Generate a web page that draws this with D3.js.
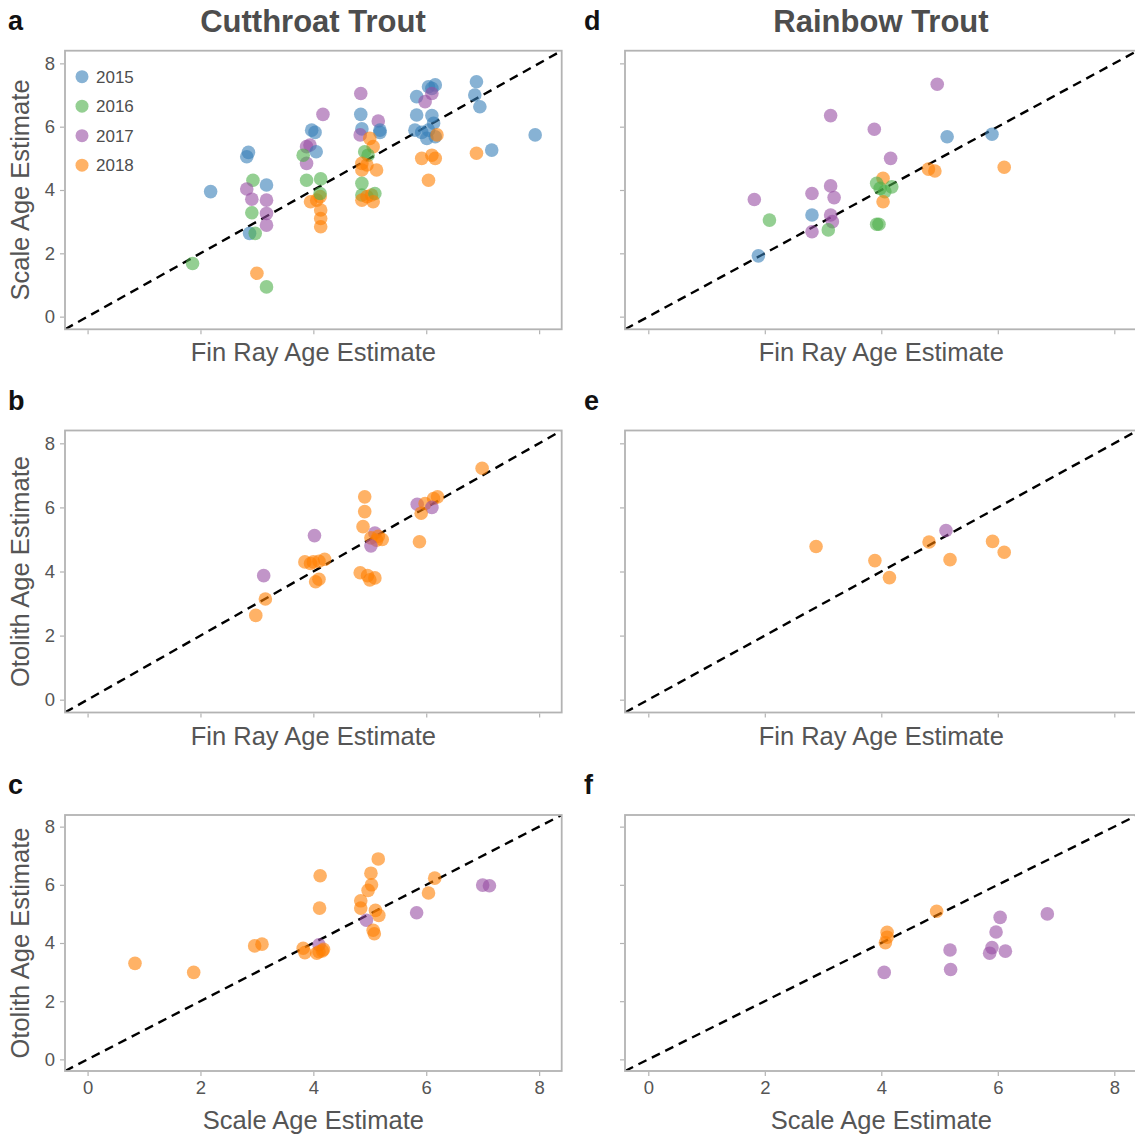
<!DOCTYPE html>
<html>
<head>
<meta charset="utf-8">
<script src="https://cdn.jsdelivr.net/npm/d3@7"></script>
<style>
  body { margin: 0; background: #fff; }
  svg { display: block; font-family: "Liberation Sans", Arial, sans-serif; }
</style>
</head>
<body>
<svg id="chart" width="1135" height="1137"></svg>
<script>
// ---- data: [x, y, year] per panel ----
const years = [2015, 2016, 2017, 2018];
const yearColors = ["#377eb8", "#4daf4a", "#984ea3", "#ff7f00"];
const tickValues = [0, 2, 4, 6, 8];

// Cutthroat: fin ray (x) vs scale (y)
const cutFinScale = [
  [2.18,3.95,2015],[2.85,5.19,2015],[2.82,5.05,2015],[2.93,4.31,2016],[3.17,4.16,2015],
  [2.82,4.03,2017],[2.91,3.71,2017],[3.17,3.68,2017],[2.91,3.28,2016],[3.17,3.26,2017],
  [3.17,2.89,2017],[2.87,2.63,2015],[2.97,2.63,2016],[1.86,1.68,2016],[3.00,1.37,2018],
  [3.17,0.94,2016],[4.17,6.39,2017],[3.97,5.89,2015],[4.03,5.82,2015],[3.88,5.37,2017],
  [3.94,5.42,2017],[4.05,5.21,2015],[3.88,4.84,2017],[3.82,5.10,2016],[3.88,4.31,2016],
  [4.13,4.35,2016],[3.95,3.63,2018],[4.06,3.68,2018],[4.12,3.79,2018],[4.12,3.89,2016],
  [4.13,3.37,2018],[4.13,3.10,2018],[4.13,2.84,2018],[4.84,7.05,2017],[4.84,6.39,2015],
  [5.15,6.18,2017],[5.18,5.89,2015],[5.18,5.82,2015],[4.86,5.93,2015],[4.83,5.74,2017],
  [5.00,5.63,2018],[5.06,5.37,2018],[4.91,5.21,2016],[4.97,5.10,2016],[4.86,4.84,2018],
  [4.95,4.79,2018],[4.86,4.63,2018],[5.12,4.63,2018],[4.86,4.21,2016],[4.86,3.84,2016],
  [4.95,3.79,2018],[5.03,3.84,2018],[5.09,3.89,2016],[4.86,3.68,2018],[5.06,3.63,2018],
  [5.83,6.95,2015],[6.04,7.26,2015],[6.10,7.21,2015],[6.16,7.32,2015],[5.98,6.79,2017],
  [6.10,7.05,2017],[5.83,6.37,2015],[6.10,6.35,2015],[6.13,6.11,2015],[5.80,5.89,2015],
  [5.92,5.82,2015],[6.04,5.89,2015],[6.01,5.63,2015],[6.16,5.68,2015],[6.19,5.74,2018],
  [5.92,5.00,2018],[6.10,5.10,2018],[6.16,5.00,2018],[6.04,4.31,2018],[6.89,7.42,2015],
  [6.86,7.00,2015],[6.95,6.63,2015],[6.89,5.16,2018],[7.16,5.26,2015],[7.93,5.74,2015]
];

// Cutthroat: fin ray (x) vs otolith (y)
const cutFinOtolith = [
  [6.99,7.22,2018],[4.91,6.33,2018],[4.91,5.87,2018],[4.88,5.40,2018],[4.02,5.12,2017],
  [5.09,5.20,2017],[5.02,5.05,2018],[5.15,5.10,2018],[5.22,5.00,2018],[5.12,4.98,2018],
  [5.02,4.80,2017],[5.84,6.10,2017],[5.98,6.12,2018],[6.13,6.28,2018],[6.20,6.33,2018],
  [6.10,6.00,2017],[5.91,5.82,2018],[5.88,4.93,2018],[3.85,4.30,2018],[4.00,4.30,2018],
  [4.10,4.32,2018],[4.20,4.38,2018],[3.95,4.25,2018],[3.12,3.87,2017],[4.04,3.68,2018],
  [4.10,3.76,2018],[4.83,3.96,2018],[4.96,3.87,2018],[5.09,3.80,2018],[5.00,3.74,2018],
  [3.15,3.14,2018],[2.98,2.63,2018]
];

// Cutthroat: scale (x) vs otolith (y)
const cutScaleOtolith = [
  [0.84,3.30,2018],[1.88,2.99,2018],[2.96,3.90,2018],[3.09,3.96,2018],[3.82,3.82,2018],
  [3.85,3.67,2018],[4.10,3.94,2017],[4.10,3.70,2018],[4.16,3.73,2018],[4.06,3.65,2018],
  [4.18,3.78,2018],[4.12,6.31,2018],[4.11,5.20,2018],[5.15,6.89,2018],[5.02,6.40,2018],
  [5.03,6.00,2018],[4.97,5.81,2018],[4.84,5.45,2018],[4.84,5.20,2018],[5.10,5.12,2018],
  [5.16,4.95,2018],[4.94,4.78,2017],[5.06,4.44,2018],[5.08,4.32,2018],[5.83,5.04,2017],
  [6.04,5.72,2018],[6.15,6.23,2018],[7.00,5.99,2017],[7.12,5.97,2017]
];

// Rainbow: fin ray (x) vs scale (y)
const rbtFinScale = [
  [4.96,7.34,2017],[3.13,6.35,2017],[3.88,5.92,2017],[5.13,5.68,2015],[5.90,5.76,2015],
  [4.16,5.00,2017],[4.81,4.66,2018],[4.92,4.60,2018],[6.11,4.72,2018],[4.03,4.37,2018],
  [3.92,4.21,2016],[3.98,4.05,2016],[4.06,3.95,2016],[4.18,4.10,2016],[4.03,3.63,2018],
  [3.13,4.13,2017],[2.81,3.89,2017],[3.19,3.76,2017],[1.82,3.70,2017],[2.81,3.21,2015],
  [3.13,3.21,2017],[3.16,3.00,2017],[2.08,3.05,2016],[3.09,2.74,2016],[2.81,2.68,2017],
  [3.92,2.92,2016],[3.96,2.92,2016],[1.89,1.92,2015]
];

// Rainbow: fin ray (x) vs otolith (y)
const rbtFinOtolith = [
  [2.88,4.78,2018],[3.89,4.34,2018],[4.14,3.81,2018],[4.82,4.92,2018],[5.11,5.28,2017],
  [5.18,4.37,2018],[5.91,4.94,2018],[6.11,4.60,2018]
];

// Rainbow: scale (x) vs otolith (y)
const rbtScaleOtolith = [
  [4.95,5.09,2018],[4.10,4.37,2018],[4.10,4.20,2018],[4.07,4.01,2018],[4.05,2.99,2017],
  [5.18,3.76,2017],[5.19,3.09,2017],[6.04,4.88,2017],[5.97,4.38,2017],[5.90,3.84,2017],
  [5.86,3.65,2017],[6.13,3.72,2017],[6.85,5.00,2017]
];

// ---- layout ----
const svg = d3.select("#chart");
const domain = [-0.4, 8.4];
const columns = [
  { x0: 65, x1: 561.7, title: "Cutthroat Trout", tx: 313 },
  { x0: 625, x1: 1137.6, title: "Rainbow Trout", tx: 881 }
];
const rows = [
  { y0: 50.7, y1: 329.3, xTitle: "Fin Ray Age Estimate", yTitle: "Scale Age Estimate", xLabels: false },
  { y0: 430.5, y1: 712.5, xTitle: "Fin Ray Age Estimate", yTitle: "Otolith Age Estimate", xLabels: false },
  { y0: 815, y1: 1071, xTitle: "Scale Age Estimate", yTitle: "Otolith Age Estimate", xLabels: true }
];
const panels = [
  { col: 0, row: 0, letter: "a", data: cutFinScale, legend: true },
  { col: 0, row: 1, letter: "b", data: cutFinOtolith },
  { col: 0, row: 2, letter: "c", data: cutScaleOtolith },
  { col: 1, row: 0, letter: "d", data: rbtFinScale },
  { col: 1, row: 1, letter: "e", data: rbtFinOtolith },
  { col: 1, row: 2, letter: "f", data: rbtScaleOtolith }
];

const color = d3.scaleOrdinal().domain(years).range(yearColors);
const textGrey = "#4d4d4d";
const lineGrey = "#b3b3b3";

// column titles
columns.forEach(c => {
  svg.append("text")
    .attr("x", c.tx).attr("y", 32)
    .attr("text-anchor", "middle")
    .attr("font-size", 31).attr("font-weight", "bold")
    .attr("fill", textGrey)
    .text(c.title);
});

panels.forEach((p, i) => {
  const c = columns[p.col], r = rows[p.row];
  const x = d3.scaleLinear().domain(domain).range([c.x0, c.x1]);
  const y = d3.scaleLinear().domain(domain).range([r.y1, r.y0]);
  const g = svg.append("g");

  // panel letter
  svg.append("text")
    .attr("x", p.col === 0 ? 8 : 584)
    .attr("y", r.y0 - 21)
    .attr("font-size", 27).attr("font-weight", "bold")
    .attr("fill", "#111")
    .text(p.letter);

  const clipId = "clip" + i;
  svg.append("clipPath").attr("id", clipId)
    .append("rect")
    .attr("x", c.x0).attr("y", r.y0)
    .attr("width", c.x1 - c.x0).attr("height", r.y1 - r.y0);

  // axes
  const yAxis = d3.axisLeft(y).tickValues(tickValues).tickSize(4).tickPadding(5)
    .tickFormat(p.col === 0 ? d3.format("d") : () => "");
  const ya = g.append("g").attr("transform", `translate(${c.x0 - 1},0)`).call(yAxis);
  const xAxis = d3.axisBottom(x).tickValues(tickValues).tickSize(4).tickPadding(5)
    .tickFormat(r.xLabels ? d3.format("d") : () => "");
  const xa = g.append("g").attr("transform", `translate(0,${r.y1 + 1})`).call(xAxis);
  [ya, xa].forEach(a => {
    a.select(".domain").remove();
    a.selectAll(".tick line").attr("stroke", lineGrey).attr("stroke-width", 1.2);
    a.selectAll(".tick text").attr("font-size", 18.5).attr("fill", "#555")
      .attr("font-family", "'Liberation Sans', Arial, sans-serif");
  });

  // axis titles
  svg.append("text")
    .attr("x", (c.x0 + Math.min(c.x1, 1137.6)) / 2)
    .attr("y", r.y1 + (r.xLabels ? 58 : 32))
    .attr("text-anchor", "middle")
    .attr("font-size", 25.5).attr("fill", "#555")
    .text(r.xTitle);
  if (p.col === 0) {
    svg.append("text")
      .attr("transform", `translate(29,${(r.y0 + r.y1) / 2}) rotate(-90)`)
      .attr("text-anchor", "middle")
      .attr("font-size", 25.5).attr("fill", "#555")
      .text(r.yTitle);
  }

  const plot = g.append("g").attr("clip-path", `url(#${clipId})`);

  // 1:1 reference line
  plot.append("line")
    .attr("x1", x(domain[0])).attr("y1", y(domain[0]))
    .attr("x2", x(domain[1])).attr("y2", y(domain[1]))
    .attr("stroke", "#000").attr("stroke-width", 2.4)
    .attr("stroke-dasharray", "9,6");

  // points
  plot.selectAll("circle.pt").data(p.data).enter().append("circle")
    .attr("class", "pt")
    .attr("cx", d => x(d[0])).attr("cy", d => y(d[1]))
    .attr("r", 6.8)
    .attr("fill", d => color(d[2]))
    .attr("fill-opacity", 0.6);

  // panel border
  g.append("rect")
    .attr("x", c.x0).attr("y", r.y0)
    .attr("width", c.x1 - c.x0).attr("height", r.y1 - r.y0)
    .attr("fill", "none").attr("stroke", lineGrey).attr("stroke-width", 1.8);

  // legend
  if (p.legend) {
    const lg = g.append("g");
    years.forEach((yr, k) => {
      const ly = r.y0 + 26 + k * 29.5;
      lg.append("circle").attr("cx", c.x0 + 17).attr("cy", ly).attr("r", 6.5)
        .attr("fill", color(yr)).attr("fill-opacity", 0.6);
      lg.append("text").attr("x", c.x0 + 31).attr("y", ly + 6)
        .attr("font-size", 17).attr("fill", textGrey).text(yr);
    });
  }
});
</script>
</body>
</html>
